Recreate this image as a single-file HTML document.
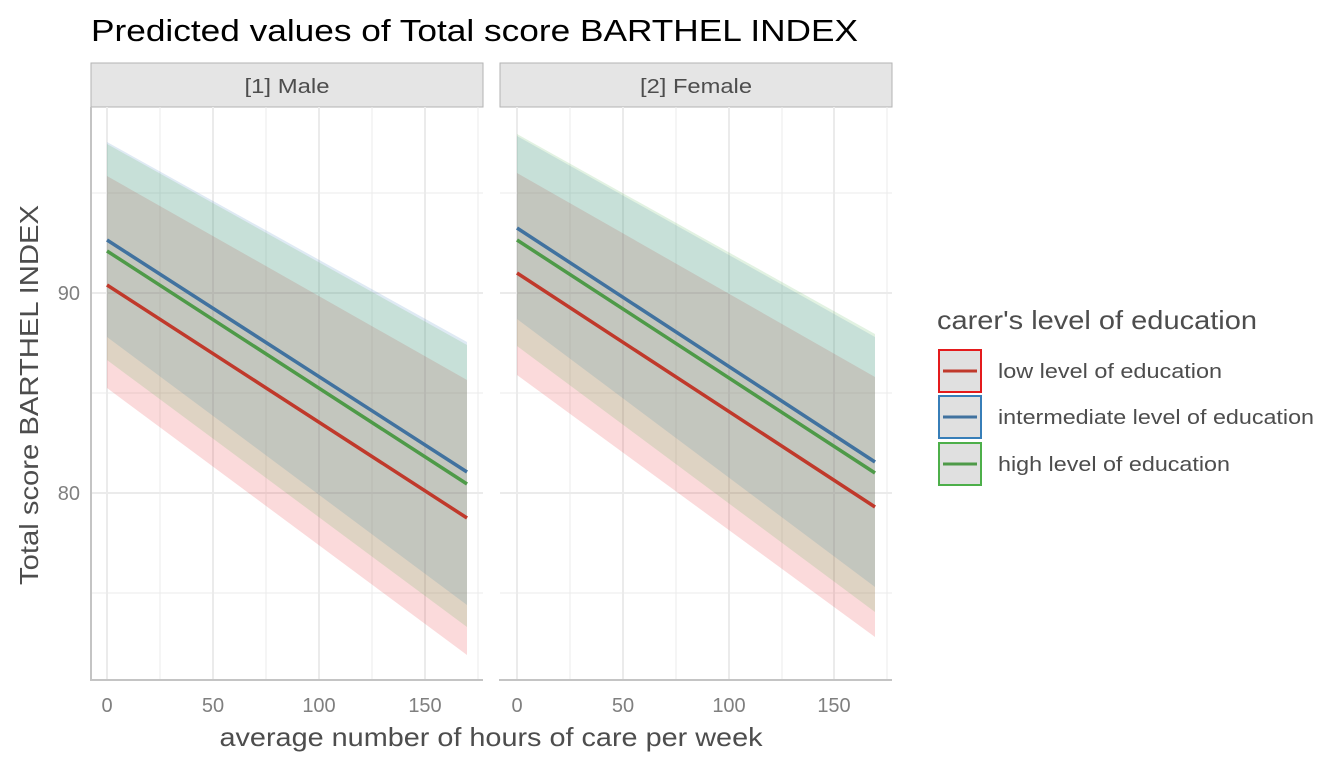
<!DOCTYPE html>
<html><head><meta charset="utf-8"><style>
body{margin:0;background:#fff;}
svg text{font-family:"Liberation Sans",Arial,sans-serif;}
</style></head><body>
<svg width="1344" height="768" xmlns="http://www.w3.org/2000/svg">
<rect width="1344" height="768" fill="#fff"/>
<text x="91" y="41" font-size="31" fill="#000" textLength="767" lengthAdjust="spacingAndGlyphs">Predicted values of Total score BARTHEL INDEX</text>

<!-- Panel 1 -->
<g>
<rect x="91" y="63" width="392" height="44" fill="#e5e5e5" stroke="#b3b3b3" stroke-width="1"/>
<text x="287" y="93" font-size="20" fill="#4d4d4d" text-anchor="middle" textLength="85" lengthAdjust="spacingAndGlyphs">[1] Male</text>
<g stroke="#ebebeb" stroke-width="1">
<line x1="91" x2="483" y1="193" y2="193"/><line x1="91" x2="483" y1="393" y2="393"/><line x1="91" x2="483" y1="593" y2="593"/>
<line x1="160" x2="160" y1="107" y2="680"/><line x1="266" x2="266" y1="107" y2="680"/><line x1="372" x2="372" y1="107" y2="680"/><line x1="478" x2="478" y1="107" y2="680"/>
</g>
<g stroke="#ebebeb" stroke-width="2">
<line x1="91" x2="483" y1="293" y2="293"/><line x1="91" x2="483" y1="493" y2="493"/>
<line x1="107" x2="107" y1="107" y2="680"/><line x1="213" x2="213" y1="107" y2="680"/><line x1="319" x2="319" y1="107" y2="680"/><line x1="425" x2="425" y1="107" y2="680"/>
</g>
<polygon points="107,176 467,380 467,655 107,388" fill="#e41a1c" fill-opacity="0.16"/>
<polygon points="107,142 467,342 467,605 107,337" fill="#377eb8" fill-opacity="0.16"/>
<polygon points="107,144 467,345 467,627 107,360" fill="#4daf4a" fill-opacity="0.16"/>
<line x1="107" y1="285" x2="467" y2="518" stroke="#c0392b" stroke-width="3.5"/>
<line x1="107" y1="240" x2="467" y2="472" stroke="#41729f" stroke-width="3.5"/>
<line x1="107" y1="251" x2="467" y2="484" stroke="#4e9a48" stroke-width="3.5"/>
<line x1="91" y1="107" x2="91" y2="681" stroke="#c4c4c4" stroke-width="2"/>
<line x1="90" y1="680" x2="483" y2="680" stroke="#c4c4c4" stroke-width="2"/>
<g font-size="20" fill="#7f7f7f" text-anchor="middle">
<text x="107" y="712">0</text><text x="213" y="712">50</text><text x="319" y="712">100</text><text x="425" y="712">150</text>
</g>
</g>

<!-- Panel 2 -->
<g>
<rect x="500" y="63" width="392" height="44" fill="#e5e5e5" stroke="#b3b3b3" stroke-width="1"/>
<text x="696" y="93" font-size="20" fill="#4d4d4d" text-anchor="middle" textLength="112" lengthAdjust="spacingAndGlyphs">[2] Female</text>
<g stroke="#ebebeb" stroke-width="1">
<line x1="500" x2="892" y1="193" y2="193"/><line x1="500" x2="892" y1="393" y2="393"/><line x1="500" x2="892" y1="593" y2="593"/>
<line x1="570" x2="570" y1="107" y2="680"/><line x1="676" x2="676" y1="107" y2="680"/><line x1="782" x2="782" y1="107" y2="680"/><line x1="887" x2="887" y1="107" y2="680"/>
</g>
<g stroke="#ebebeb" stroke-width="2">
<line x1="500" x2="892" y1="293" y2="293"/><line x1="500" x2="892" y1="493" y2="493"/>
<line x1="517" x2="517" y1="107" y2="680"/><line x1="623" x2="623" y1="107" y2="680"/><line x1="729" x2="729" y1="107" y2="680"/><line x1="834" x2="834" y1="107" y2="680"/>
</g>
<polygon points="517,173 875,377 875,637 517,375" fill="#e41a1c" fill-opacity="0.16"/>
<polygon points="517,136 875,337 875,587 517,319" fill="#377eb8" fill-opacity="0.16"/>
<polygon points="517,134 875,334 875,612 517,346" fill="#4daf4a" fill-opacity="0.16"/>
<line x1="517" y1="273" x2="875" y2="507" stroke="#c0392b" stroke-width="3.5"/>
<line x1="517" y1="228" x2="875" y2="462" stroke="#41729f" stroke-width="3.5"/>
<line x1="517" y1="240" x2="875" y2="473" stroke="#4e9a48" stroke-width="3.5"/>
<line x1="499" y1="680" x2="892" y2="680" stroke="#c4c4c4" stroke-width="2"/>
<g font-size="20" fill="#7f7f7f" text-anchor="middle">
<text x="517" y="712">0</text><text x="623" y="712">50</text><text x="729" y="712">100</text><text x="834" y="712">150</text>
</g>
</g>

<g font-size="20" fill="#7f7f7f" text-anchor="end">
<text x="80" y="300">90</text><text x="80" y="500">80</text>
</g>
<text x="491" y="746" font-size="26" fill="#4d4d4d" text-anchor="middle" textLength="543" lengthAdjust="spacingAndGlyphs">average number of hours of care per week</text>
<text transform="translate(38,395) rotate(-90)" font-size="26" fill="#4d4d4d" text-anchor="middle" textLength="380" lengthAdjust="spacingAndGlyphs">Total score BARTHEL INDEX</text>

<!-- Legend -->
<text x="937" y="329" font-size="26" fill="#4d4d4d" textLength="320" lengthAdjust="spacingAndGlyphs">carer's level of education</text>
<g>
<rect x="939" y="350" width="42" height="42" fill="#e0e0e0" stroke="#e41a1c" stroke-width="2"/>
<line x1="943" y1="371" x2="977" y2="371" stroke="#c0392b" stroke-width="3"/>
<rect x="939" y="396" width="42" height="42" fill="#e0e0e0" stroke="#377eb8" stroke-width="2"/>
<line x1="943" y1="417" x2="977" y2="417" stroke="#41729f" stroke-width="3"/>
<rect x="939" y="443" width="42" height="42" fill="#e0e0e0" stroke="#4daf4a" stroke-width="2"/>
<line x1="943" y1="464" x2="977" y2="464" stroke="#4e9a48" stroke-width="3"/>
</g>
<g font-size="20" fill="#4d4d4d">
<text x="998" y="378" textLength="224" lengthAdjust="spacingAndGlyphs">low level of education</text>
<text x="998" y="424" textLength="316" lengthAdjust="spacingAndGlyphs">intermediate level of education</text>
<text x="998" y="471" textLength="232" lengthAdjust="spacingAndGlyphs">high level of education</text>
</g>
</svg>
</body></html>
